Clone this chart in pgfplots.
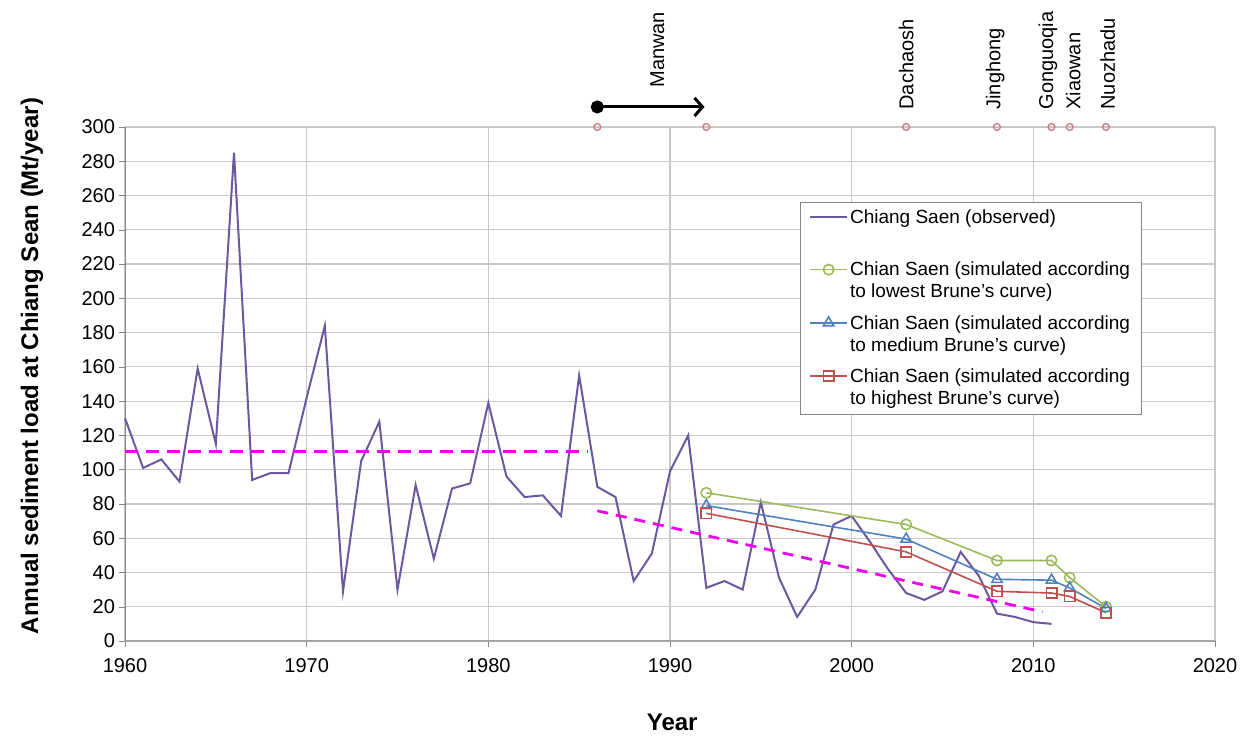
\documentclass[border=0pt]{standalone}
\usepackage{pgfplots}
\pgfplotsset{compat=1.18}
\usepackage{fontspec}
\setmainfont{Liberation Sans}
\usetikzlibrary{arrows.meta}

\definecolor{obs}{RGB}{108,88,158}
\definecolor{lowg}{RGB}{155,187,89}
\definecolor{medb}{RGB}{79,129,189}
\definecolor{highr}{RGB}{192,80,77}
\definecolor{gridc}{RGB}{200,200,200}
\definecolor{axc}{RGB}{134,134,134}
\definecolor{damc}{RGB}{210,125,130}
\definecolor{trend}{RGB}{240,0,240}

\begin{document}
\begin{tikzpicture}
\path[use as bounding box] (-62.5pt,-49pt) rectangle (567pt,320.5pt);
\begin{axis}[
  scale only axis, width=545pt, height=257pt,
  xmin=1960, xmax=2020, ymin=0, ymax=300,
  xtick={1960,1970,...,2020}, ytick={0,20,...,300},
  /pgf/number format/1000 sep={},
  /pgf/number format/assume math mode=true,
  axis lines=left,
  axis line style={-, draw=axc},
  x axis line style={line width=1.2pt, draw={rgb,255:red,165;green,165;blue,165}},
  grid=major, major grid style={draw=gridc, line width=0.6pt},
  tick align=outside, major tick length=3pt, tick style={draw=axc},
  ticklabel style={font=\fontsize{10}{12}\selectfont},
  xticklabel style={yshift=-2pt},
  yticklabel style={xshift=1.5pt},
  clip=false,
  ylabel={Annual sediment load at Chiang Sean (Mt/year)},
  ylabel style={at={(axis description cs:-0.0853,0.535)}, anchor=center, font=\bfseries\fontsize{12}{14}\selectfont},
  xlabel={Year},
  xlabel style={at={(axis description cs:0.502,-0.1576)}, anchor=center, font=\bfseries\fontsize{12}{14}\selectfont},
  legend cell align=left,
  legend style={at={(axis description cs:0.619,0.854)}, anchor=north west,
    draw=axc, fill=white, font=\fontsize{9.5}{11}\selectfont,
    cells={align=left}, nodes={inner sep=1pt, anchor=north west},
    inner xsep=4.5pt, inner ysep=2.5pt, row sep=5pt, column sep=0pt},
  legend image code/.code={\draw[mark repeat=2,mark phase=2,#1] plot coordinates {(0pt,-4.9pt) (9.25pt,-4.9pt) (18.5pt,-4.9pt)};},
]
% observed
\addplot[obs, line width=1pt] coordinates {
(1960,130) (1961,101) (1962,106) (1963,93) (1964,159) (1965,115) (1966,285) (1967,94) (1968,98) (1969,98)
(1970,142) (1971,184) (1972,29) (1973,105) (1974,128) (1975,30) (1976,91) (1977,48) (1978,89) (1979,92)
(1980,139) (1981,96) (1982,84) (1983,85) (1984,73) (1985,155) (1986,90) (1987,84) (1988,35) (1989,51)
(1990,99) (1991,120) (1992,31) (1993,35) (1994,30) (1995,81) (1996,37) (1997,14) (1998,30) (1999,68)
(2000,73) (2001,58) (2002,42) (2003,28) (2004,24) (2005,29) (2006,52) (2007,38) (2008,16) (2009,14)
(2010,11) (2011,10)};
\addlegendentry{Chiang Saen (observed)\\[-0.4pt]\mbox{}}
% trend lines
\addplot[trend, line width=1.7pt, dash pattern=on 6.5pt off 4pt, forget plot] coordinates {(1960,110.5) (1985.5,110.5)};
\addplot[trend, line width=1.4pt, dash pattern=on 5.5pt off 4pt, forget plot] coordinates {(1986,76) (2010.5,17)};
% simulated
\addplot[lowg, line width=0.8pt, mark=o, mark size=2.6pt, mark options={solid}] coordinates {
(1992,86.5) (2003,68) (2008,47) (2011,47) (2012,37) (2014,20)};
\addlegendentry{Chian Saen (simulated according\\to lowest Brune's curve)}
\addplot[medb, line width=0.8pt, mark=triangle, mark size=3pt, mark options={solid}] coordinates {
(1992,79) (2003,59.5) (2008,36) (2011,35.5) (2012,31) (2014,19)};
\addlegendentry{Chian Saen (simulated according\\to medium Brune's curve)}
\addplot[highr, line width=0.8pt, mark=square, mark size=2.6pt, mark options={solid}] coordinates {
(1992,74.5) (2003,52) (2008,29) (2011,28) (2012,26) (2014,16.5)};
\addlegendentry{Chian Saen (simulated according\\to highest Brune's curve)}
% dam markers
\addplot[only marks, mark=o, mark size=1.7pt, line width=0.7pt, damc, forget plot] coordinates {
(1986,300) (1992,300) (2003,300) (2008,300) (2011,300) (2012,300) (2014,300)};
% Manwan arrow
\addplot[black, line width=1.5pt, -{Straight Barb[length=4pt,width=9pt]}, mark=*, mark indices={1}, mark size=2.5pt, mark options={solid, fill=black}, forget plot] coordinates {(1986,311.7) (1991.9,311.7)};
% dam labels
\begin{scope}[every node/.style={rotate=90, anchor=west, inner sep=0pt, font=\fontsize{10}{12}\selectfont}]
\node at (axis cs:1989.3,322.8) {Manwan};
\node at (axis cs:2003,310) {Dachaosh};
\node at (axis cs:2007.9,310) {Jinghong};
\node at (axis cs:2010.8,310) {Gonguoqia};
\node at (axis cs:2012.2,310) {Xiaowan};
\node at (axis cs:2014.1,310) {Nuozhadu};
\end{scope}
\end{axis}
\end{tikzpicture}
\end{document}
